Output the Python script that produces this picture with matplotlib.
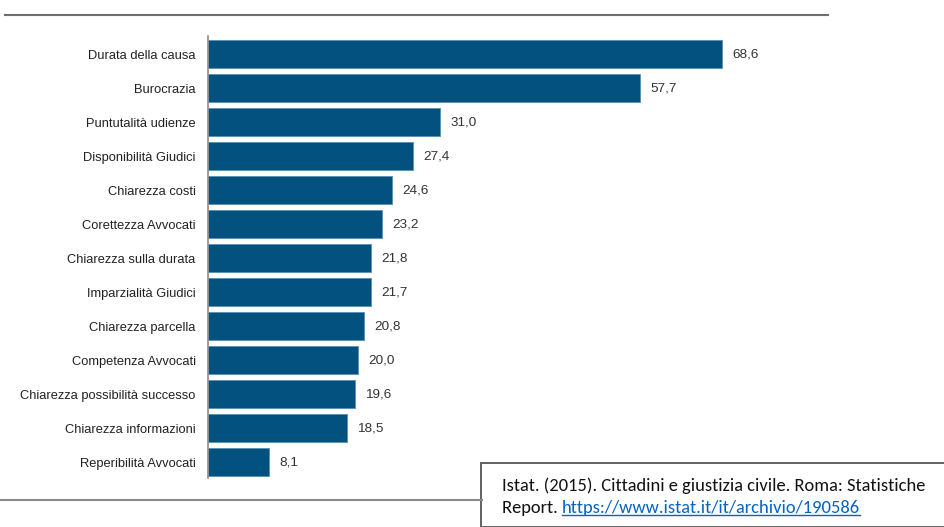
import matplotlib
matplotlib.use("Agg")
import matplotlib.pyplot as plt
from matplotlib.patches import Rectangle
from matplotlib.lines import Line2D

categories = ["Durata della causa", "Burocrazia", "Puntutalità udienze", "Disponibilità Giudici",
              "Chiarezza costi", "Corettezza Avvocati", "Chiarezza sulla durata", "Imparzialità Giudici",
              "Chiarezza parcella", "Competenza Avvocati", "Chiarezza possibilità successo",
              "Chiarezza informazioni", "Reperibilità Avvocati"]
values = [68.6, 57.7, 31.0, 27.4, 24.6, 23.2, 21.8, 21.7, 20.8, 20.0, 19.6, 18.5, 8.1]
value_labels = ["68,6", "57,7", "31,0", "27,4", "24,6", "23,2", "21,8", "21,7", "20,8", "20,0", "19,6", "18,5", "8,1"]

W, H = 944, 527
fig = plt.figure(figsize=(W / 100, H / 100), dpi=100)
fig.patch.set_facecolor("white")

lab_font = ["Liberation Sans Narrow", "Liberation Sans", "DejaVu Sans"]

ax_left, ax_right = 208, 828
ax_top, ax_bot = 36, 478
ax = fig.add_axes([ax_left / W, 1 - ax_bot / H, (ax_right - ax_left) / W, (ax_bot - ax_top) / H])
ax.set_facecolor("none")

y = list(range(len(categories)))
ax.barh(y, values, height=0.82, color="#02517f", edgecolor="#5a8fb0", linewidth=0.6)
ax.set_xlim(0, (ax_right - ax_left) / 7.49)
ax.set_ylim(12.47, -0.53)
ax.set_yticks(y)
ax.set_yticklabels(categories, fontfamily=lab_font, fontsize=9.3, color="#222222")
ax.tick_params(axis="y", length=0, pad=9)
ax.set_xticks([])
for s in ["top", "right", "bottom"]:
    ax.spines[s].set_visible(False)
ax.spines["left"].set_color("#8c8c8c")
ax.spines["left"].set_linewidth(1.2)

for yi, v, lbl in zip(y, values, value_labels):
    ax.text(v + 1.4, yi, lbl, va="center", ha="left", fontfamily=lab_font, fontsize=9.7, color="#333333")

# horizontal rules
fig.add_artist(Line2D([5 / W, 828 / W], [1 - 15 / H, 1 - 15 / H], color="#6e6e6e", linewidth=1.5))
fig.add_artist(Line2D([0 / W, 482 / W], [1 - 500 / H, 1 - 500 / H], color="#8a8a8a", linewidth=1.5))

# citation box
fig.add_artist(Rectangle((481 / W, 0), (W - 481) / W + 0.01, (H - 463) / H, transform=fig.transFigure,
                         facecolor="white", edgecolor="#555555", linewidth=1.3))
box_font = ["Carlito", "Open Sans", "DejaVu Sans"]
fs = 13.3
fig.text(502 / W, 1 - 486 / H, "Istat. (2015). Cittadini e giustizia civile. Roma: Statistiche",
         fontfamily=box_font, fontsize=fs, color="#111111", va="center", ha="left")
t2 = fig.text(502 / W, 1 - 508 / H, "Report. ", fontfamily=box_font, fontsize=fs,
              color="#111111", va="center", ha="left")
fig.canvas.draw()
r = fig.canvas.get_renderer()
bb = t2.get_window_extent(r)
x_link = bb.x1
t3 = fig.text(x_link / W, 1 - 508 / H, "https://www.istat.it/it/archivio/190586", fontfamily=box_font,
              fontsize=fs, color="#0563c1", va="center", ha="left")
fig.canvas.draw()
bb3 = t3.get_window_extent(r)
uy = bb3.y0 + 1
fig.add_artist(Line2D([bb3.x0 / W, bb3.x1 / W], [uy / H, uy / H], color="#0563c1", linewidth=1.0))

fig.savefig("out.png", dpi=100, facecolor="white")
